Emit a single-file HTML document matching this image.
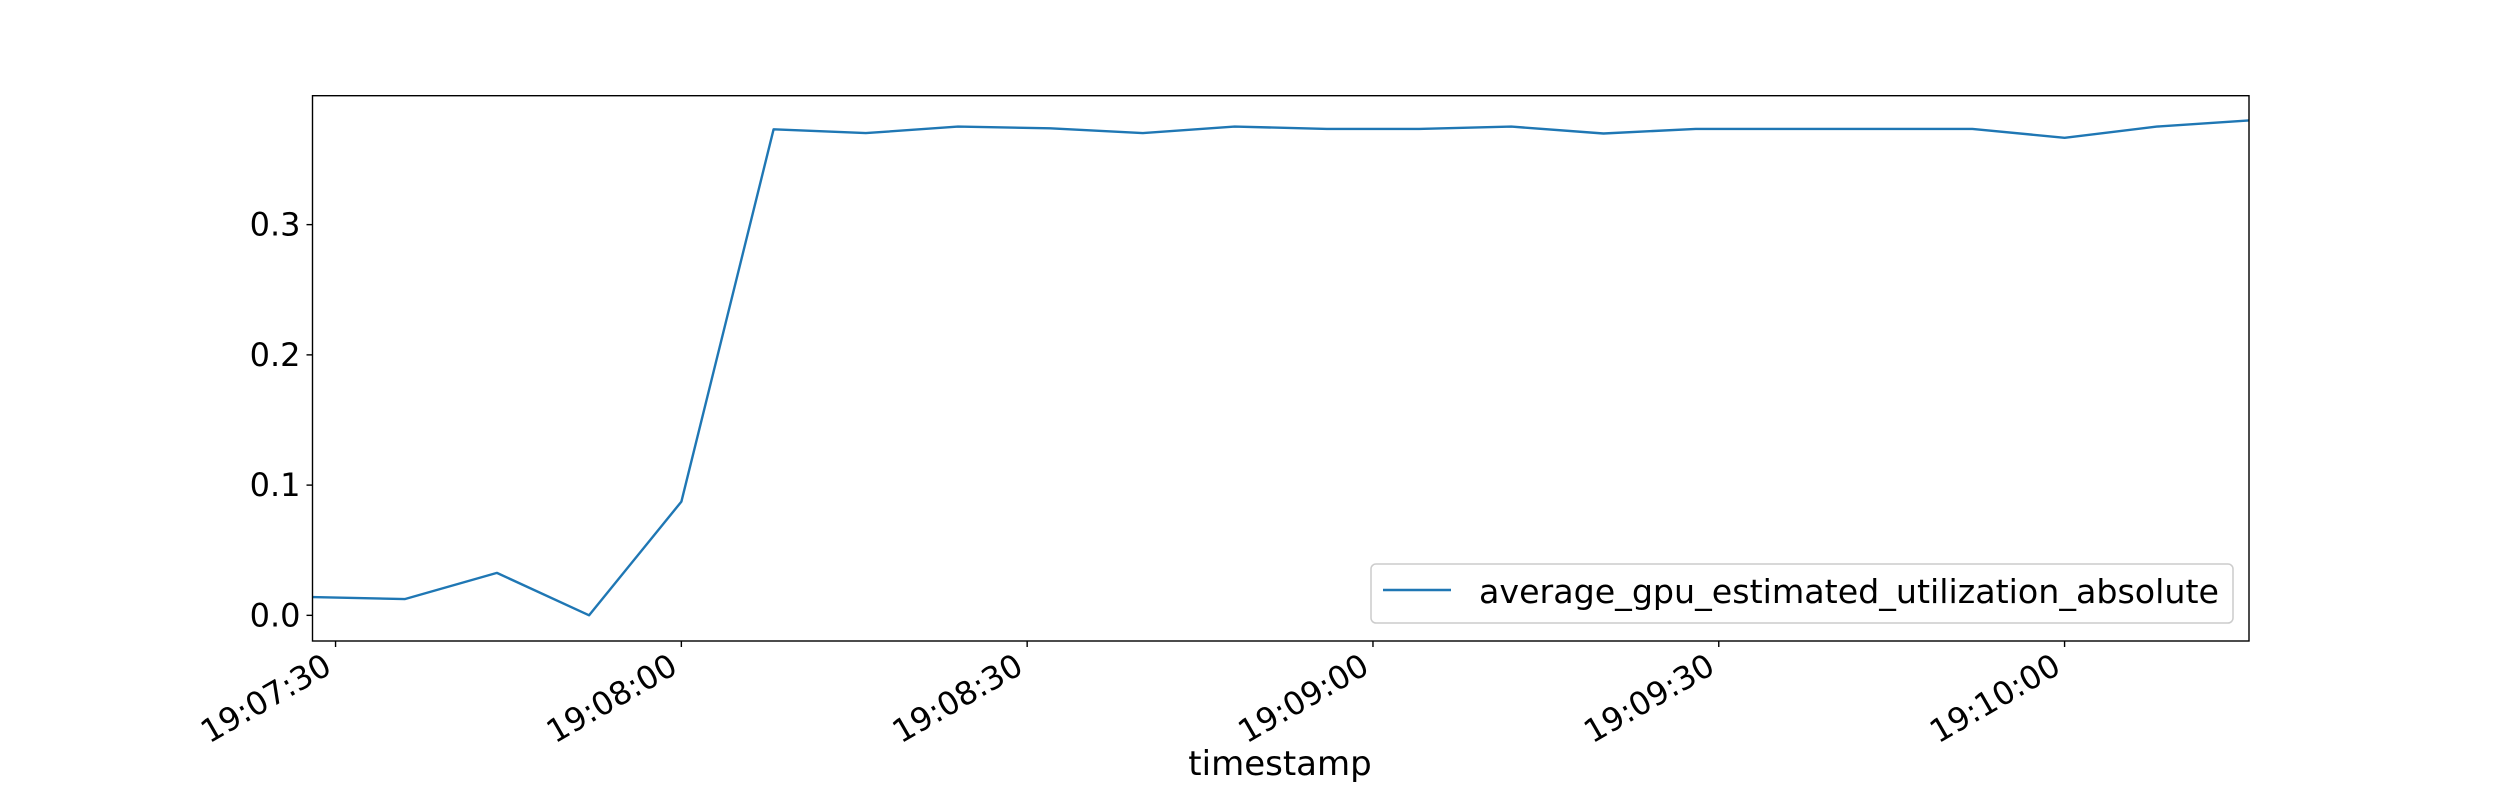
<!DOCTYPE html>
<html><head><meta charset="utf-8"><style>
html,body{margin:0;padding:0;background:#fff;}
svg{display:block;font-family:"DejaVu Sans","Liberation Sans",sans-serif;}
</style></head><body>
<svg id="chart" width="2500" height="800" viewBox="0 0 2500 800">
<rect x="0" y="0" width="2500" height="800" fill="#fff"/>
<g id="grid"></g>
<polyline id="series" fill="none" stroke="#1f77b4" stroke-width="2.4" stroke-linejoin="round"/>
<rect x="312.5" y="95.7" width="1936.5" height="545.3" fill="none" stroke="#000" stroke-width="1.4"/>
<g id="axes"></g>
<text x="1280" y="775" font-size="34" text-anchor="middle">timestamp</text>
<g>
<rect x="1371" y="564" width="862" height="59" rx="5" fill="#fff" fill-opacity="0.8" stroke="#ccc" stroke-width="1.5"/>
<line x1="1383" y1="590" x2="1451" y2="590" stroke="#1f77b4" stroke-width="2.4"/>
<text x="1479" y="603" font-size="33" textLength="740" lengthAdjust="spacingAndGlyphs">average_gpu_estimated_utilization_absolute</text>
</g>
</svg>
<script>
const startSec = 19*3600 + 7*60 + 28;
const stepSec = 8;
const values = [0.014,0.0125,0.0326,0.0,0.0873,0.3732,0.3703,0.3753,0.374,0.3703,0.3753,0.3735,0.3735,0.3753,0.370,0.3735,0.3735,0.3735,0.3735,0.3667,0.3753,0.380];
const yTicks = [0.0,0.1,0.2,0.3];
const yTickLabels = ["0.0","0.1","0.2","0.3"];
const xTickSecs = [19*3600+7*60+30,19*3600+8*60,19*3600+8*60+30,19*3600+9*60,19*3600+9*60+30,19*3600+10*60];
const xTickLabels = ["19:07:30","19:08:00","19:08:30","19:09:00","19:09:30","19:10:00"];

const NS="http://www.w3.org/2000/svg";
const L=312.5,R=2249,T=95.7,B=641;
const tMin=startSec, tMax=startSec+stepSec*(values.length-1);
const yMin=-0.0197, yMax=0.399;
const xs=t=>L+(t-tMin)/(tMax-tMin)*(R-L);
const ys=v=>B-(v-yMin)/(yMax-yMin)*(B-T);

document.getElementById('series').setAttribute('points',values.map((v,i)=>xs(startSec+i*stepSec).toFixed(1)+','+ys(v).toFixed(1)).join(' '));

const axes=document.getElementById('axes');
yTicks.forEach((v,i)=>{
  const y=ys(v);
  const l=document.createElementNS(NS,'line');
  l.setAttribute('x1',L-6);l.setAttribute('x2',L);l.setAttribute('y1',y);l.setAttribute('y2',y);
  l.setAttribute('stroke','#000');l.setAttribute('stroke-width','1.4');
  
  
  axes.appendChild(l);
  const t=document.createElementNS(NS,'text');
  t.setAttribute('x',L-12);t.setAttribute('y',y+11);t.setAttribute('font-size','32');t.setAttribute('text-anchor','end');
  t.textContent=yTickLabels[i];
  
  
  axes.appendChild(t);
});
xTickSecs.forEach((s,i)=>{
  const x=xs(s);
  const l=document.createElementNS(NS,'line');
  l.setAttribute('x1',x);l.setAttribute('x2',x);l.setAttribute('y1',B);l.setAttribute('y2',B+6);
  l.setAttribute('stroke','#000');l.setAttribute('stroke-width','1.4');
  
  
  axes.appendChild(l);
  const t=document.createElementNS(NS,'text');
  t.setAttribute('transform','translate('+(x-2)+','+(B+31)+') rotate(-30)');
  t.setAttribute('font-size','32');t.setAttribute('text-anchor','end');
  t.textContent=xTickLabels[i];
  
  
  axes.appendChild(t);
});
</script>
</body></html>
